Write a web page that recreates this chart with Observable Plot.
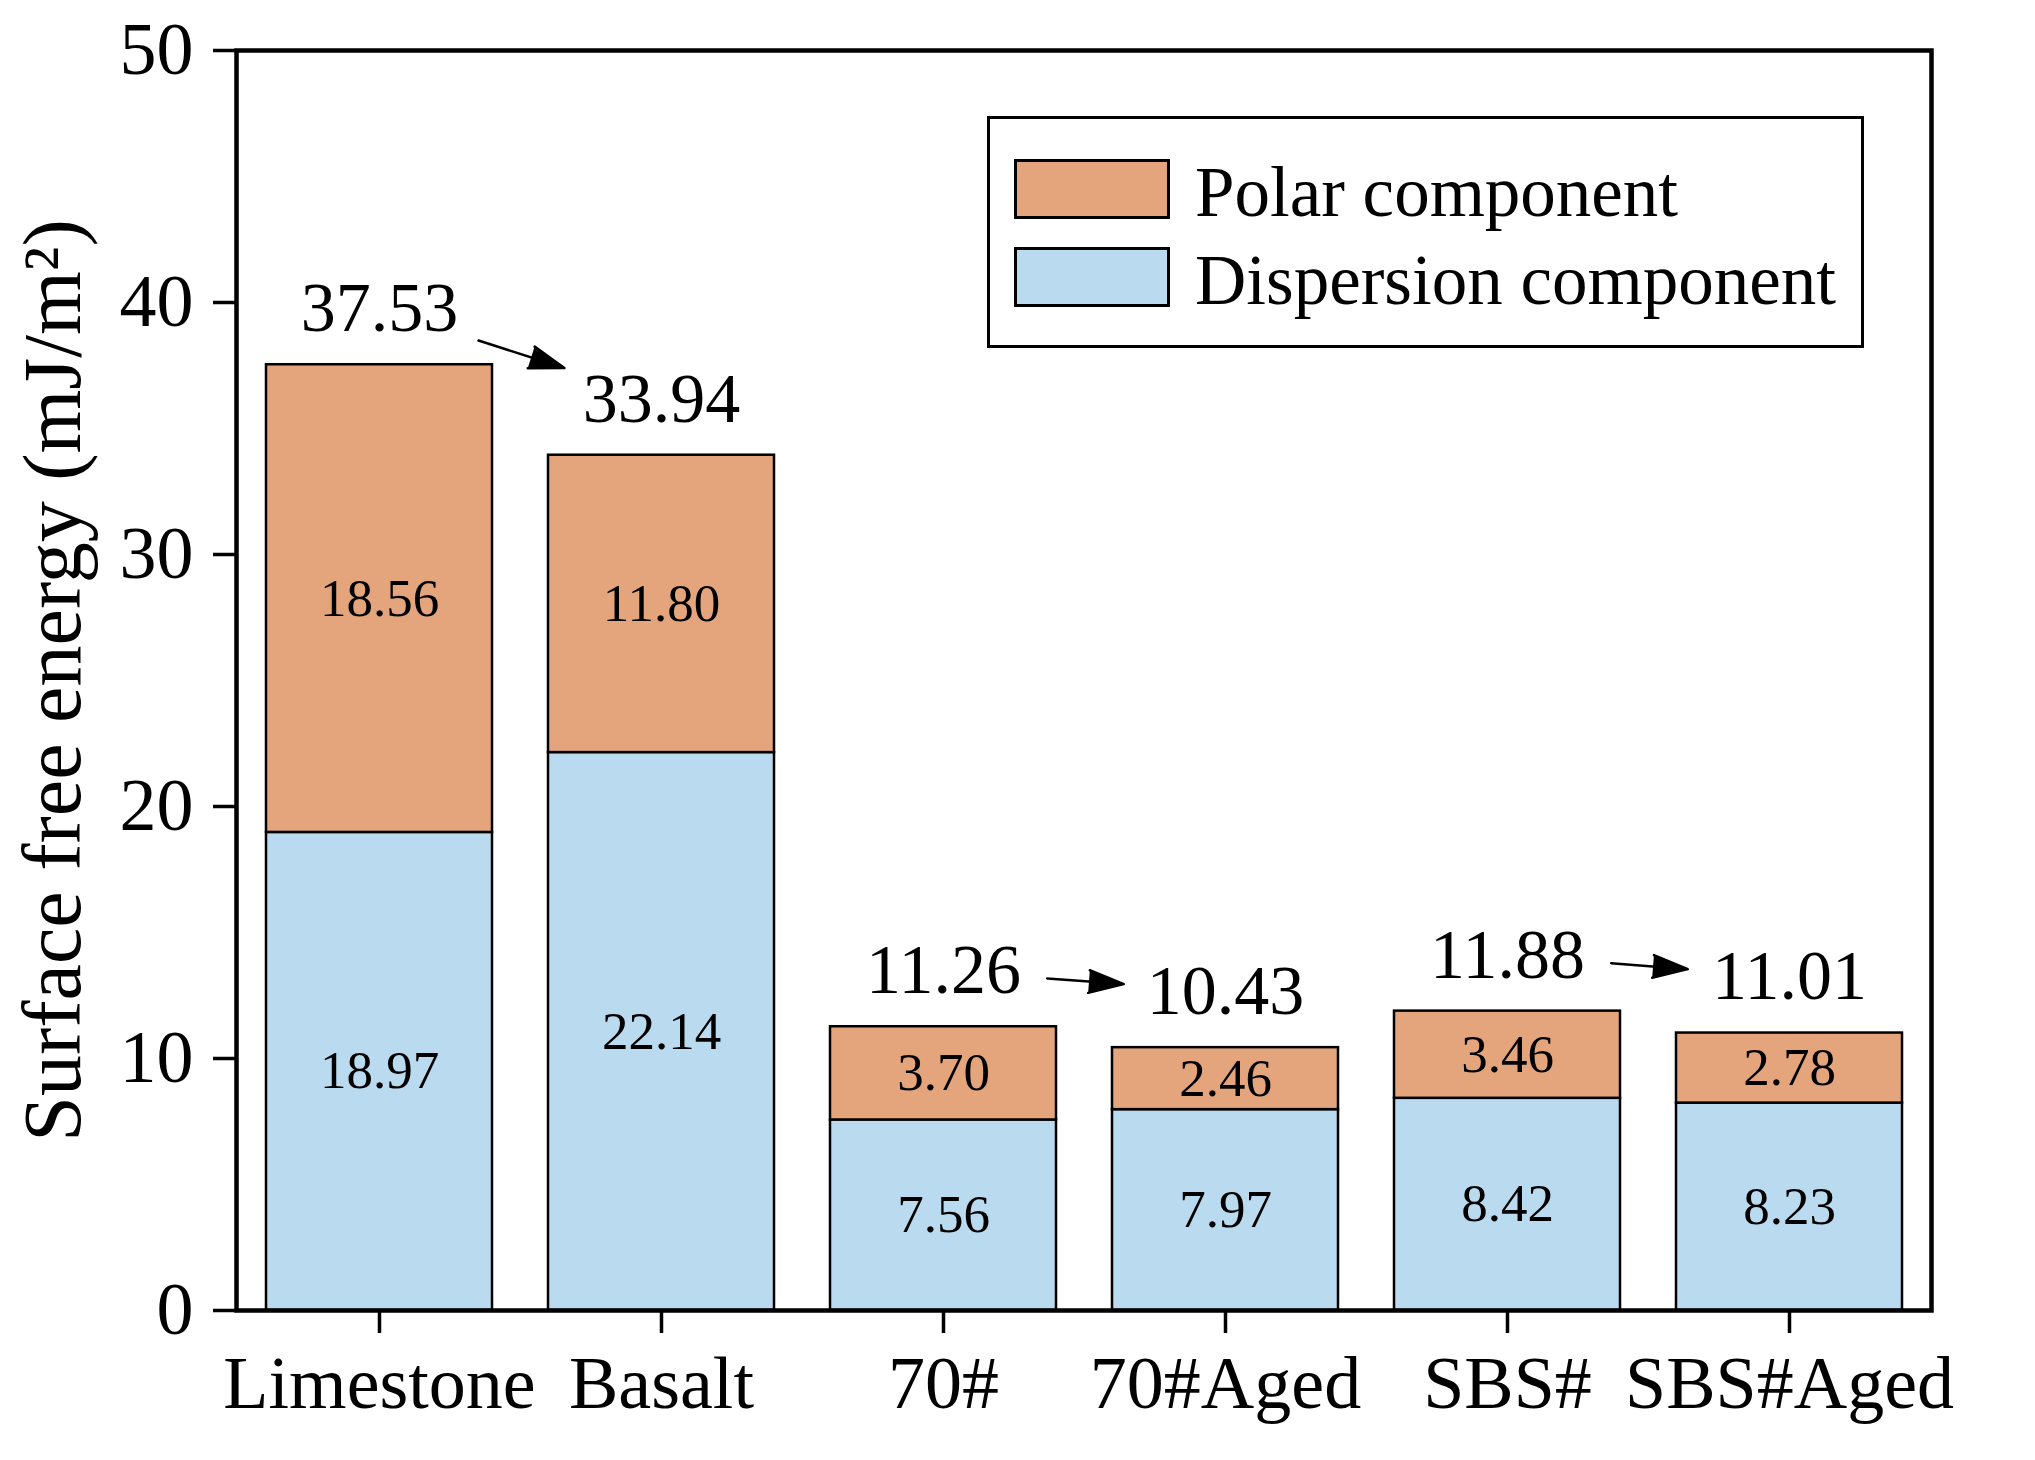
<!DOCTYPE html>
<html><head><meta charset="utf-8">
<script src="https://cdn.jsdelivr.net/npm/d3@7"></script>
<script src="https://cdn.jsdelivr.net/npm/@observablehq/plot@0.6"></script>
<style>
html,body{margin:0;padding:0;background:#fff;}
#wrap{position:relative;width:2035px;height:1460px;font-family:'Liberation Serif','Times New Roman',serif;}
g[aria-label="y-axis label"]{font-size:82px;}
g[aria-label="arrow"] path{fill:black;}
g[aria-label="x-axis tick"],g[aria-label="y-axis tick"]{stroke-width:3.5px;stroke:#000;}
.legend{position:absolute;left:987px;top:116px;width:877px;height:232px;box-sizing:border-box;border:3px solid #000;background:#fff;}
.sw{position:absolute;left:24px;width:156px;height:60px;box-sizing:border-box;border:3px solid #000;}
.lt{position:absolute;left:205px;font-size:71px;line-height:60px;white-space:nowrap;color:#000;}
</style></head><body><div id="wrap"></div>
<script>
const categories = ["Limestone","Basalt","70#","70#Aged","SBS#","SBS#Aged"];
const dispersion = [18.97,22.14,7.56,7.97,8.42,8.23];
const polar = [18.56,11.80,3.70,2.46,3.46,2.78];
const totals = [37.53,33.94,11.26,10.43,11.88,11.01];
const series = ["Dispersion component","Polar component"];
const seriesColors = ["#BADBEF","#E4A57D"];
const legendOrder = ["Polar component","Dispersion component"];
const arrowFrom = ["Limestone","70#","SBS#"];
const arrowTo = ["Basalt","70#Aged","SBS#Aged"];
const yTicks = [0,10,20,30,40,50];
const yLabel = "Surface free energy (mJ/m²)";

const fmt = d3.format(".2f");
const rows = [];
categories.forEach((c,i)=>{
  rows.push({category:c, series:series[0], value:dispersion[i]});
  rows.push({category:c, series:series[1], value:polar[i]});
});
const totalRows = categories.map((c,i)=>({category:c,total:totals[i]}));
const totalOf = c => totals[categories.indexOf(c)];
const arrowRows = arrowFrom.map((a,i)=>({from:a,to:arrowTo[i],y1:totalOf(a),y2:totalOf(arrowTo[i])}));

const chart = Plot.plot({
  width: 2035, height: 1460,
  marginLeft: 236, marginRight: 104, marginTop: 50, marginBottom: 150,
  style: {fontFamily: "'Liberation Serif','Times New Roman',serif", fontSize: "74px", color: "black", background: "white"},
  x: {domain: categories, paddingInner: 0.2, paddingOuter: 0.1, label: null, tickSize: 23, tickPadding: 22},
  y: {domain: [0,50], ticks: yTicks, label: yLabel, labelAnchor: "center", labelOffset: 215, labelArrow: "none", tickSize: 23, tickPadding: 20},
  color: {domain: series, range: seriesColors},
  marks: [
    Plot.barY(rows, {x: "category", y: "value", fill: "series", stroke: "black", strokeWidth: 2.5}),
    Plot.text(rows, Plot.stackY({x: "category", y: "value", z: "series", text: d => fmt(d.value), fontSize: 53, fill: "black"})),
    Plot.text(totalRows, {x: "category", y: "total", text: d => fmt(d.total), dy: -56, fontSize: 70, fill: "black"}),
    Plot.arrow(arrowRows, {x1: "from", y1: "y1", x2: "to", y2: "y2", dy: -56, insetStart: 104, insetEnd: 102, stroke: "black", strokeWidth: 2.5, headLength: 22, headAngle: 36}),
    Plot.frame({stroke: "black", strokeWidth: 4.5})
  ]
});
const wrap = document.getElementById("wrap");
wrap.appendChild(chart);

const leg = document.createElement("div");
leg.className = "legend";
legendOrder.forEach((s,i)=>{
  const top = 40 + i*88;
  const sw = document.createElement("div");
  sw.className = "sw";
  sw.style.top = top + "px";
  sw.style.background = seriesColors[series.indexOf(s)];
  leg.appendChild(sw);
  const t = document.createElement("div");
  t.className = "lt";
  t.style.top = (top + 3) + "px";
  t.textContent = s;
  leg.appendChild(t);
});
wrap.appendChild(leg);
</script></body></html>
